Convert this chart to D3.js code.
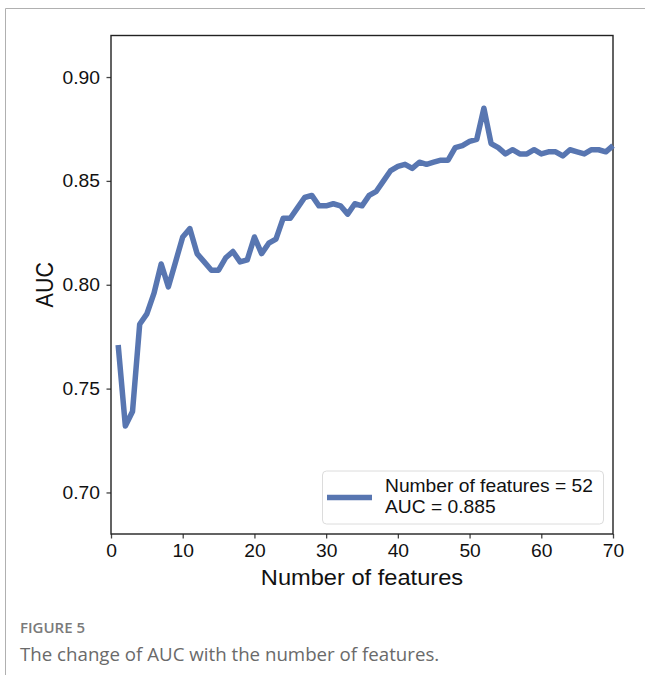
<!DOCTYPE html>
<html>
<head>
<meta charset="utf-8">
<script src="https://cdn.jsdelivr.net/npm/d3@7/dist/d3.min.js"></script>
<style>
  html, body { margin: 0; padding: 0; background: #fff; }
  svg { display: block; }
</style>
</head>
<body>
<svg id="fig" width="645" height="675"></svg>
<script>
// Number of selected features (1..70) and the cross-validated AUC for each
const featureCounts = d3.range(1, 71);
const aucValues = [
  0.771, 0.732, 0.739, 0.781, 0.786, 0.796, 0.810, 0.799, 0.811, 0.823,
  0.827, 0.815, 0.811, 0.807, 0.807, 0.813, 0.816, 0.811, 0.812, 0.823,
  0.815, 0.820, 0.822, 0.832, 0.832, 0.837, 0.842, 0.843, 0.838, 0.838,
  0.839, 0.838, 0.834, 0.839, 0.838, 0.843, 0.845, 0.850, 0.855, 0.857,
  0.858, 0.856, 0.859, 0.858, 0.859, 0.860, 0.860, 0.866, 0.867, 0.869,
  0.870, 0.885, 0.868, 0.866, 0.863, 0.865, 0.863, 0.863, 0.865, 0.863,
  0.864, 0.864, 0.862, 0.865, 0.864, 0.863, 0.865, 0.865, 0.864, 0.867
];
const xTicks = [0, 10, 20, 30, 40, 50, 60, 70];
const yTicks = [0.70, 0.75, 0.80, 0.85, 0.90];

const svg = d3.select("#fig");
const FONT = "'Liberation Sans', Arial, sans-serif";
const STRETCH = 1.1;           // figure text is slightly wide
const lineColor = "#5876b1";

// page frame
svg.append("line").attr("x1", 5.5).attr("x2", 645).attr("y1", 8.5).attr("y2", 8.5)
  .attr("stroke", "#b0b0b0").attr("stroke-width", 1);
svg.append("line").attr("x1", 5.5).attr("x2", 5.5).attr("y1", 8.5).attr("y2", 675)
  .attr("stroke", "#b0b0b0").attr("stroke-width", 1);

const L = 111, R = 613, T = 35.5, B = 534;
const x = d3.scaleLinear().domain([0, 70]).range([L, R]);
const y = d3.scaleLinear().domain([0.68, 0.92]).range([B, T]);

// axes
const xAxis = svg.append("g").attr("transform", `translate(0,${B})`)
  .call(d3.axisBottom(x).tickValues(xTicks).tickFormat(d3.format("d")).tickSize(4.5).tickPadding(6));
const yAxis = svg.append("g").attr("transform", `translate(${L},0)`)
  .call(d3.axisLeft(y).tickValues(yTicks).tickFormat(d3.format(".2f")).tickSize(4.5).tickPadding(6));

[xAxis, yAxis].forEach(g => {
  g.attr("font-family", null).attr("font-size", null);
  g.select(".domain").remove();
  g.selectAll(".tick line").attr("stroke", "#444").attr("stroke-width", 1.3);
  g.selectAll(".tick text").attr("fill", "#111").style("font-family", FONT).style("font-size", "17.5px");
});
xAxis.selectAll(".tick text").attr("dy", null).attr("y", 0)
  .attr("transform", `translate(0,23) scale(${STRETCH},1)`);
yAxis.selectAll(".tick text").attr("x", 0).attr("dy", "0.34em")
  .attr("transform", `translate(-11,0) scale(${STRETCH},1)`);

// plot frame
svg.append("rect").attr("x", L).attr("y", T).attr("width", R - L).attr("height", B - T)
  .attr("fill", "none").attr("stroke", "#222").attr("stroke-width", 1.4);

// AUC curve
const line = d3.line().x((d, i) => x(featureCounts[i])).y(d => y(d));
svg.append("path").datum(aucValues)
  .attr("d", line)
  .attr("fill", "none")
  .attr("stroke", lineColor)
  .attr("stroke-width", 5.5)
  .attr("stroke-linejoin", "round")
  .attr("stroke-linecap", "butt");

// axis titles
svg.append("text").text("Number of features")
  .attr("transform", `translate(${(L + R) / 2},585) scale(${STRETCH},1)`)
  .attr("text-anchor", "middle").attr("fill", "#111")
  .style("font-family", FONT).style("font-size", "21.5px");
svg.append("text").text("AUC")
  .attr("transform", `translate(53,${(T + B) / 2}) scale(1.15,1) rotate(-90)`)
  .attr("text-anchor", "middle").attr("fill", "#111")
  .style("font-family", FONT).style("font-size", "21.5px");

// legend: best feature count and its AUC
const bestIdx = d3.maxIndex(aucValues);
const legend = svg.append("g");
legend.append("rect").attr("x", 322.5).attr("y", 471).attr("width", 281).attr("height", 53)
  .attr("rx", 4).attr("fill", "#fff").attr("stroke", "#dcdcdc").attr("stroke-width", 1);
legend.append("line").attr("x1", 327).attr("x2", 372).attr("y1", 497.5).attr("y2", 497.5)
  .attr("stroke", lineColor).attr("stroke-width", 5.5);
[`Number of features = ${featureCounts[bestIdx]}`, `AUC = ${d3.format(".3f")(aucValues[bestIdx])}`]
  .forEach((t, i) => {
    legend.append("text").text(t)
      .attr("transform", `translate(385,${491.5 + i * 21.5}) scale(${STRETCH},1)`)
      .attr("fill", "#111").style("font-family", FONT).style("font-size", "17.5px");
  });

// caption
svg.append("text").text("FIGURE 5").attr("x", 20).attr("y", 633)
  .attr("fill", "#7a7a7a").style("font-family", "'Open Sans', sans-serif")
  .style("font-size", "15px").style("font-weight", 600);
svg.append("text").text("The change of AUC with the number of features.").attr("x", 20).attr("y", 661)
  .attr("fill", "#6a6a6a").style("font-family", "'Open Sans', sans-serif")
  .style("font-size", "18.7px");
</script>
</body>
</html>
